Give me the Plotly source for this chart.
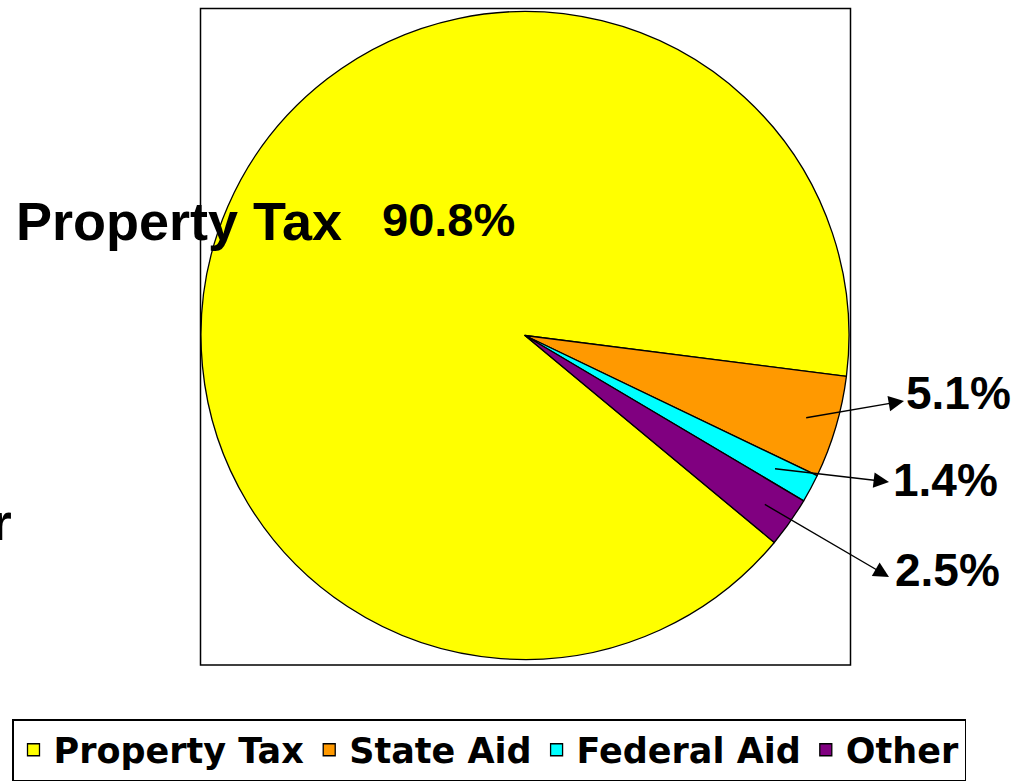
import math
import plotly.graph_objects as go

# ---- data ----
categories = ["Property Tax", "State Aid", "Federal Aid", "Other"]
shares = [90.8, 5.1, 1.4, 2.5]
colors = ["#FFFF00", "#FF9900", "#00FFFF", "#800080"]

# ---- layout constants (pixels) ----
W, H = 1015, 782
PIE_X0, PIE_X1, PIE_Y0, PIE_Y1 = 201, 849, 8, 663
ROTATION = 129.7


def px(x):
    return x / W


def py(y):
    return 1 - y / H


cx = (PIE_X0 + PIE_X1) / 2
cy = (PIE_Y0 + PIE_Y1) / 2
R = min(PIE_X1 - PIE_X0, PIE_Y1 - PIE_Y0) / 2

fig = go.Figure(
    go.Pie(
        labels=categories,
        values=shares,
        sort=False,
        direction="clockwise",
        rotation=ROTATION,
        textinfo="none",
        marker=dict(colors=colors, line=dict(color="black", width=1.3)),
        domain=dict(x=[px(PIE_X0), px(PIE_X1)], y=[py(PIE_Y1), py(PIE_Y0)]),
        hovertemplate="%{label}: %{value}%<extra></extra>",
    )
)

# slice mid angles (clockwise from 12 o'clock), computed from the data
total = sum(shares)
mids = []
acc = ROTATION
for v in shares:
    span = v / total * 360
    mids.append(acc + span / 2)
    acc += span

annotations = []
label_font = dict(family="Liberation Sans, Arial, sans-serif", color="black", weight="bold")

# big slice labels
annotations.append(dict(x=px(14), y=py(221), xref="paper", yref="paper", xanchor="left",
                        yanchor="middle", text=categories[0], showarrow=False,
                        font=dict(label_font, size=54)))
annotations.append(dict(x=px(448), y=py(219), xref="paper", yref="paper", xanchor="center",
                        yanchor="middle", text=f"{shares[0]}%", showarrow=False,
                        font=dict(label_font, size=47)))
# cut-off label at far left
annotations.append(dict(x=px(14), y=py(522), xref="paper", yref="paper", xanchor="right",
                        yanchor="middle", text=categories[3], showarrow=False,
                        font=dict(label_font, size=52)))

# small slice labels with arrows
label_pos = [None, (904, 393), (891, 480), (893, 570)]
head_pos = [None, (904, 401), (889, 482), (889, 577)]
tail_frac = [None, 0.9, 0.87, 0.9]
for i in range(1, 4):
    a = math.radians(mids[i])
    tx = cx + tail_frac[i] * R * math.sin(a)
    ty = cy - tail_frac[i] * R * math.cos(a)
    hx, hy = head_pos[i]
    annotations.append(dict(x=px(hx), y=py(hy), xref="paper", yref="paper", text="",
                            showarrow=True, ax=tx - hx, ay=ty - hy, axref="pixel", ayref="pixel",
                            arrowhead=2, arrowsize=2.2, arrowwidth=1.4, arrowcolor="black",
                            standoff=0))
    lx, ly = label_pos[i]
    annotations.append(dict(x=px(lx), y=py(ly), xref="paper", yref="paper", xanchor="left",
                            yanchor="middle", text=f"{shares[i]}%", showarrow=False,
                            font=dict(label_font, size=46)))

fig.update_layout(
    width=W,
    height=H,
    autosize=False,
    margin=dict(l=0, r=0, t=0, b=0),
    paper_bgcolor="white",
    plot_bgcolor="white",
    annotations=annotations,
    shapes=[dict(type="rect", xref="paper", yref="paper", x0=px(200.5), x1=px(850.5),
                 y0=py(665), y1=py(8.5), line=dict(color="black", width=1.5),
                 layer="below")],
    showlegend=True,
    legend=dict(
        orientation="h",
        x=px(12), xanchor="left",
        y=py(719), yanchor="top",
        bordercolor="black", borderwidth=1.5,
        bgcolor="white",
        font=dict(family="DejaVu Sans, sans-serif", size=35, color="black", weight="bold"),
        traceorder="normal",
        itemclick=False,
    ),
)

fig.write_html("out.html")
